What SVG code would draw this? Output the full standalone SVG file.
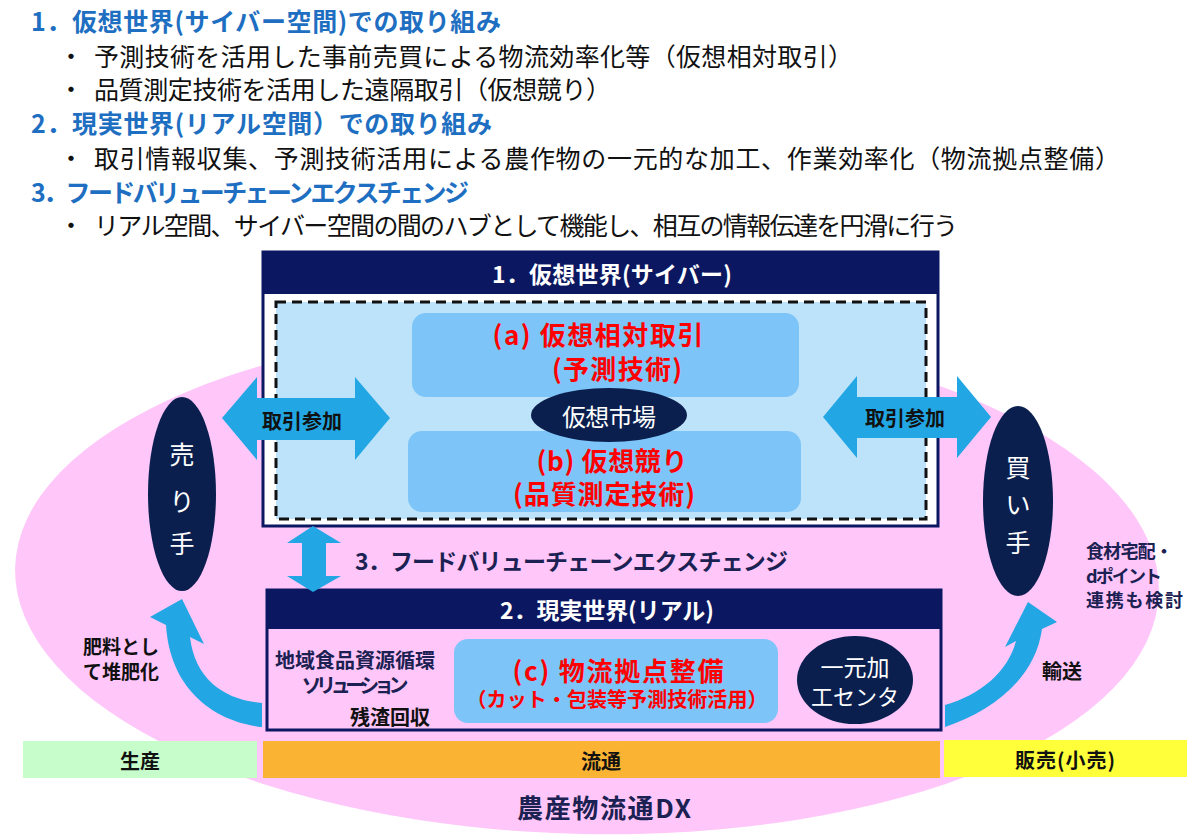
<svg xmlns="http://www.w3.org/2000/svg" width="1200" height="838" viewBox="0 0 1200 838">
<style>
text{font-family:'Noto Sans CJK JP','Noto Sans',sans-serif;dominant-baseline:central}
.h{font-size:25px;font-weight:700;fill:#1E6FC1}
.b{font-size:25px;fill:#111}
.w{fill:#fff}
.bold{font-weight:700}
.red{fill:#FF0000;font-weight:700;text-anchor:middle}
.mid{text-anchor:middle}
.navy{fill:#1B2152;font-weight:700}
.blk{fill:#111;font-weight:700}
.arrow{fill:#22A6E4}
.dark{fill:#0B1F4F}
.hdr{fill:#0B1760}
</style>
<rect width="1200" height="838" fill="#fff"/>
<g id="background">
<ellipse cx="587" cy="580" rx="572" ry="254" fill="#FFC6FA" transform="rotate(1.2 587 580)"/>
</g>
<g id="intro">
<text class="h" x="31" y="20" textLength="470">1．仮想世界(サイバー空間)での取り組み</text>
<text class="b mid" x="71" y="55">・</text>
<text class="b" x="94" y="55" textLength="759">予測技術を活用した事前売買による物流効率化等（仮想相対取引）</text>
<text class="b mid" x="71" y="88">・</text>
<text class="b" x="94" y="88" textLength="517">品質測定技術を活用した遠隔取引（仮想競り）</text>
<text class="h" x="31" y="122" textLength="461">2．現実世界(リアル空間）での取り組み</text>
<text class="b mid" x="71" y="157">・</text>
<text class="b" x="94" y="157" textLength="1026">取引情報収集、予測技術活用による農作物の一元的な加工、作業効率化（物流拠点整備）</text>
<text class="h" x="31" y="191" textLength="438">3．フードバリューチェーンエクスチェンジ</text>
<text class="b mid" x="71" y="224">・</text>
<text class="b" x="94" y="224" textLength="864">リアル空間、サイバー空間の間のハブとして機能し、相互の情報伝達を円滑に行う</text>
</g>
<g id="bars">
<rect x="23" y="741" width="234" height="37" fill="#C6FDCB"/>
<text class="blk mid" x="140" y="760" font-size="20">生産</text>
<rect x="263" y="741" width="677" height="37" fill="#FBB333"/>
<text class="blk mid" x="601" y="760" font-size="20">流通</text>
<rect x="944" y="740" width="243" height="37" fill="#FFFF3A"/>
<text class="blk mid" x="1065" y="759" font-size="20" textLength="100">販売(小売)</text>
<text class="navy mid" x="604" y="806" font-size="26" textLength="174">農産物流通DX</text>
</g>
<g id="cyber">
<rect x="263" y="252" width="675" height="274" fill="#fff" stroke="#0B1760" stroke-width="3"/>
<rect x="262" y="251" width="677" height="43" class="hdr"/>
<text class="w bold mid" x="612" y="273" font-size="23" textLength="240">1．仮想世界(サイバー)</text>
<rect x="276" y="302" width="650" height="217" fill="#BDE3FA" stroke="#111" stroke-width="3" stroke-dasharray="10 6"/>
</g>
<g id="box-a">
<rect x="412" y="313" width="387" height="84" rx="14" fill="#7DC4F8"/>
<text class="red" x="598" y="333" font-size="26" textLength="211">(a) 仮想相対取引</text>
<text class="red" x="617" y="367" font-size="26" textLength="130">(予測技術)</text>
</g>
<g id="box-b">
<rect x="408" y="431" width="393" height="81" rx="14" fill="#7DC4F8"/>
<text class="red" x="612" y="459" font-size="26" textLength="151">(b) 仮想競り</text>
<text class="red" x="604" y="492" font-size="26" textLength="182">(品質測定技術)</text>
</g>
<g id="market">
<ellipse cx="609" cy="415" rx="78" ry="27" class="dark"/>
<text class="w mid" x="609" y="415" font-size="24" textLength="94">仮想市場</text>
</g>
<g id="real">
<rect x="267" y="590" width="674" height="140" fill="none" stroke="#0B1760" stroke-width="3"/>
<rect x="266" y="589" width="676" height="40" class="hdr"/>
<text class="w bold mid" x="607" y="609" font-size="23" textLength="214">2．現実世界(リアル)</text>
<text class="navy mid" x="355" y="659" font-size="20" textLength="160">地域食品資源循環</text>
<text class="navy mid" x="355" y="684" font-size="20" textLength="107">ソリューション</text>
<text class="blk mid" x="390" y="716" font-size="20">残渣回収</text>
</g>
<g id="box-c">
<rect x="454" y="639" width="324" height="84" rx="14" fill="#7DC4F8"/>
<text class="red" x="618" y="669" font-size="26" textLength="211">(c) 物流拠点整備</text>
<text class="red" x="617" y="698" font-size="20" textLength="301">（カット・包装等予測技術活用）</text>
</g>
<g id="center">
<ellipse cx="855" cy="680" rx="58" ry="44" class="dark"/>
<text class="w mid" x="855" y="666" font-size="23">一元加</text>
<text class="w mid" x="855" y="695" font-size="22">工センタ</text>
</g>
<g id="seller">
<ellipse cx="182" cy="494" rx="34" ry="97" class="dark"/>
<text class="w mid" x="182" y="453" font-size="25">売</text>
<text class="w mid" x="182" y="500" font-size="25">り</text>
<text class="w mid" x="182" y="542" font-size="25">手</text>
</g>
<g id="buyer">
<ellipse cx="1018" cy="501" rx="35" ry="95" class="dark"/>
<text class="w mid" x="1018" y="466" font-size="25">買</text>
<text class="w mid" x="1018" y="503" font-size="25">い</text>
<text class="w mid" x="1018" y="541" font-size="25">手</text>
</g>
<g id="connectors">
<polygon class="arrow" points="222,418 257,377 257,398 355,398 355,377 390,418 355,460 355,440 257,440 257,460"/>
<polygon class="arrow" points="823,417 857,376 857,397 957,397 957,376 991,417 957,458 957,438 857,438 857,458"/>
<polygon class="arrow" points="313,526 341,543 326,543 326,576 341,576 313,592 287,576 302,576 302,543 287,543"/>
<path class="arrow" d="M262,727 C215,722 170,690 166,625 L150,617 L182,599 L204,644 L190,637 C195,680 225,700 262,703 Z"/>
<path class="arrow" d="M945,727 C990,712 1035,680 1042,629 L1057,622 L1028,602 L1005,647 L1016,641 C1008,672 980,695 945,705 Z"/>
</g>
<g id="labels">
<text class="blk mid" x="302" y="420" font-size="20">取引参加</text>
<text class="blk mid" x="905" y="417" font-size="20">取引参加</text>
<text class="navy" x="355" y="560" font-size="23" textLength="433">3．フードバリューチェーンエクスチェンジ</text>
<text class="blk" x="83" y="645" font-size="19">肥料とし</text>
<text class="blk" x="83" y="670" font-size="19">て堆肥化</text>
<text class="blk" x="1042" y="670" font-size="20">輸送</text>
<text class="navy" x="1086" y="550" font-size="18" textLength="87">食材宅配・</text>
<text class="navy" x="1086" y="575" font-size="18" textLength="76">dポイント</text>
<text class="navy" x="1086" y="599" font-size="18" textLength="97">連携も検討</text>
</g>
</svg>
